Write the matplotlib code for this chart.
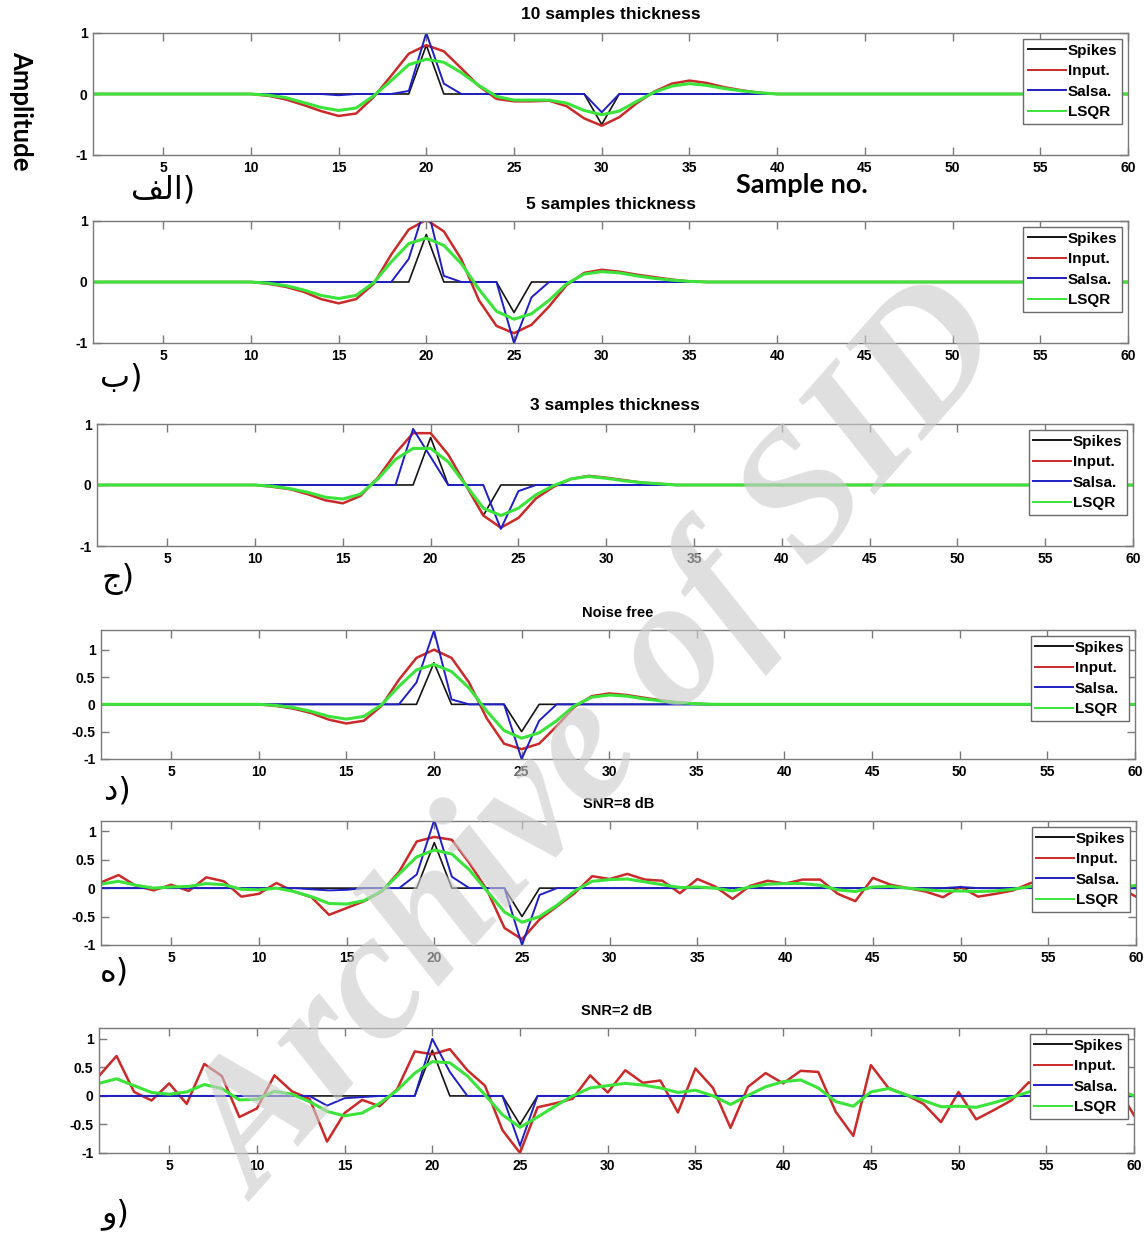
import matplotlib
matplotlib.use("Agg")
import matplotlib.pyplot as plt

plt.rcParams['axes.unicode_minus'] = False
plt.rcParams['font.family'] = ['Liberation Sans', 'DejaVu Sans']

# ---------------- data ----------------
samples = list(range(1, 61))
xtick_values = [5, 10, 15, 20, 25, 30, 35, 40, 45, 50, 55, 60]
series_names = ['Spikes', 'Input.', 'Salsa.', 'LSQR']
panel_titles = ['10 samples thickness', '5 samples thickness', '3 samples thickness',
                'Noise free', 'SNR=8 dB', 'SNR=2 dB']
panel_letters = ['\uFED2\uFEDF\uFE8D)', '\uFE8F)', '\uFE9D)', '\uFEA9)', '\uFEE9)', '\uFEED)']
yticks_small = [-1, 0, 1]
yticks_large = [-1, -0.5, 0, 0.5, 1]

# Panel 1: 10 samples thickness
spikes1 = [0, 0, 0, 0, 0, 0, 0, 0, 0, 0,
           0, 0, 0, 0, 0, 0, 0, 0, 0, 0.80,
           0, 0, 0, 0, 0, 0, 0, 0, 0, -0.50,
           0, 0, 0, 0, 0, 0, 0, 0, 0, 0,
           0, 0, 0, 0, 0, 0, 0, 0, 0, 0,
           0, 0, 0, 0, 0, 0, 0, 0, 0, 0]
input1 = [0, 0, 0, 0, 0, 0, 0, 0, 0, 0,
          -0.03, -0.09, -0.18, -0.28, -0.36, -0.32, -0.05, 0.30, 0.66, 0.80,
          0.70, 0.42, 0.13, -0.08, -0.12, -0.12, -0.11, -0.20, -0.40, -0.52,
          -0.38, -0.15, 0.04, 0.17, 0.22, 0.18, 0.11, 0.06, 0.02, 0,
          0, 0, 0, 0, 0, 0, 0, 0, 0, 0,
          0, 0, 0, 0, 0, 0, 0, 0, 0, 0]
salsa1 = [0, 0, 0, 0, 0, 0, 0, 0, 0, 0,
          0, 0, 0, 0, -0.02, 0, 0, 0, 0.05, 1.00,
          0.17, 0, 0, 0, 0, 0, 0, 0, 0, -0.30,
          0, 0, 0, 0, 0, 0, 0, 0, 0, 0,
          0, 0, 0, 0, 0, 0, 0, 0, 0, 0,
          0, 0, 0, 0, 0, 0, 0, 0, 0, 0]
lsqr1 = [0, 0, 0, 0, 0, 0, 0, 0, 0, 0,
         -0.02, -0.06, -0.14, -0.22, -0.27, -0.23, -0.03, 0.22, 0.48, 0.57,
         0.52, 0.35, 0.14, -0.04, -0.10, -0.10, -0.10, -0.15, -0.27, -0.34,
         -0.28, -0.12, 0.03, 0.13, 0.17, 0.14, 0.09, 0.05, 0.02, 0,
         0, 0, 0, 0, 0, 0, 0, 0, 0, 0,
         0, 0, 0, 0, 0, 0, 0, 0, 0, 0]

# Panel 2: 5 samples thickness
spikes2 = [0, 0, 0, 0, 0, 0, 0, 0, 0, 0,
           0, 0, 0, 0, 0, 0, 0, 0, 0, 0.78,
           0, 0, 0, 0, -0.50, 0, 0, 0, 0, 0,
           0, 0, 0, 0, 0, 0, 0, 0, 0, 0,
           0, 0, 0, 0, 0, 0, 0, 0, 0, 0,
           0, 0, 0, 0, 0, 0, 0, 0, 0, 0]
input2 = [0, 0, 0, 0, 0, 0, 0, 0, 0, 0,
          -0.03, -0.08, -0.16, -0.28, -0.35, -0.28, -0.03, 0.45, 0.86, 1.02,
          0.83, 0.37, -0.30, -0.72, -0.84, -0.70, -0.40, -0.05, 0.15, 0.20,
          0.17, 0.12, 0.08, 0.04, 0.01, 0, 0, 0, 0, 0,
          0, 0, 0, 0, 0, 0, 0, 0, 0, 0,
          0, 0, 0, 0, 0, 0, 0, 0, 0, 0]
salsa2 = [0, 0, 0, 0, 0, 0, 0, 0, 0, 0,
          0, 0, 0, 0, 0, 0, 0, 0, 0.38, 1.30,
          0.10, 0, 0, 0, -1.00, -0.25, 0, 0, 0, 0,
          0, 0, 0, 0, 0, 0, 0, 0, 0, 0,
          0, 0, 0, 0, 0, 0, 0, 0, 0, 0,
          0, 0, 0, 0, 0, 0, 0, 0, 0, 0]
lsqr2 = [0, 0, 0, 0, 0, 0, 0, 0, 0, 0,
         -0.02, -0.06, -0.13, -0.22, -0.27, -0.22, -0.01, 0.33, 0.63, 0.72,
         0.60, 0.30, -0.12, -0.48, -0.61, -0.52, -0.30, -0.03, 0.13, 0.17,
         0.15, 0.10, 0.06, 0.03, 0.01, 0, 0, 0, 0, 0,
         0, 0, 0, 0, 0, 0, 0, 0, 0, 0,
         0, 0, 0, 0, 0, 0, 0, 0, 0, 0]

# Panel 3: 3 samples thickness
spikes3 = [0, 0, 0, 0, 0, 0, 0, 0, 0, 0,
           0, 0, 0, 0, 0, 0, 0, 0, 0, 0.78,
           0, 0, -0.50, 0, 0, 0, 0, 0, 0, 0,
           0, 0, 0, 0, 0, 0, 0, 0, 0, 0,
           0, 0, 0, 0, 0, 0, 0, 0, 0, 0,
           0, 0, 0, 0, 0, 0, 0, 0, 0, 0]
input3 = [0, 0, 0, 0, 0, 0, 0, 0, 0, 0,
          -0.03, -0.07, -0.15, -0.25, -0.30, -0.18, 0.12, 0.52, 0.85, 0.85,
          0.50, 0.00, -0.50, -0.70, -0.54, -0.22, -0.03, 0.10, 0.15, 0.12,
          0.08, 0.04, 0.02, 0, 0, 0, 0, 0, 0, 0,
          0, 0, 0, 0, 0, 0, 0, 0, 0, 0,
          0, 0, 0, 0, 0, 0, 0, 0, 0, 0]
salsa3 = [0, 0, 0, 0, 0, 0, 0, 0, 0, 0,
          0, 0, 0, 0, 0, 0, 0, 0, 0.92, 0.46,
          0, 0, 0, -0.72, -0.10, 0, 0, 0, 0, 0,
          0, 0, 0, 0, 0, 0, 0, 0, 0, 0,
          0, 0, 0, 0, 0, 0, 0, 0, 0, 0,
          0, 0, 0, 0, 0, 0, 0, 0, 0, 0]
lsqr3 = [0, 0, 0, 0, 0, 0, 0, 0, 0, 0,
         -0.02, -0.06, -0.12, -0.20, -0.23, -0.15, 0.10, 0.42, 0.60, 0.60,
         0.38, 0.00, -0.38, -0.50, -0.38, -0.16, -0.01, 0.10, 0.14, 0.11,
         0.07, 0.04, 0.02, 0, 0, 0, 0, 0, 0, 0,
         0, 0, 0, 0, 0, 0, 0, 0, 0, 0,
         0, 0, 0, 0, 0, 0, 0, 0, 0, 0]

# Panel 4: Noise free
spikes4 = [0, 0, 0, 0, 0, 0, 0, 0, 0, 0,
           0, 0, 0, 0, 0, 0, 0, 0, 0, 0.76,
           0, 0, 0, 0, -0.50, 0, 0, 0, 0, 0,
           0, 0, 0, 0, 0, 0, 0, 0, 0, 0,
           0, 0, 0, 0, 0, 0, 0, 0, 0, 0,
           0, 0, 0, 0, 0, 0, 0, 0, 0, 0]
input4 = [0, 0, 0, 0, 0, 0, 0, 0, 0, 0,
          -0.03, -0.08, -0.16, -0.28, -0.35, -0.30, -0.03, 0.45, 0.85, 1.00,
          0.85, 0.40, -0.25, -0.72, -0.82, -0.72, -0.40, -0.05, 0.15, 0.20,
          0.17, 0.12, 0.07, 0.03, 0.01, 0, 0, 0, 0, 0,
          0, 0, 0, 0, 0, 0, 0, 0, 0, 0,
          0, 0, 0, 0, 0, 0, 0, 0, 0, 0]
salsa4 = [0, 0, 0, 0, 0, 0, 0, 0, 0, 0,
          0, 0, 0, 0, 0, 0, 0, 0, 0.40, 1.35,
          0.09, 0, 0, 0, -1.00, -0.30, 0, 0, 0, 0,
          0, 0, 0, 0, 0, 0, 0, 0, 0, 0,
          0, 0, 0, 0, 0, 0, 0, 0, 0, 0,
          0, 0, 0, 0, 0, 0, 0, 0, 0, 0]
lsqr4 = [0, 0, 0, 0, 0, 0, 0, 0, 0, 0,
         -0.02, -0.06, -0.13, -0.22, -0.27, -0.22, -0.01, 0.33, 0.63, 0.73,
         0.60, 0.30, -0.12, -0.48, -0.62, -0.52, -0.30, -0.03, 0.13, 0.17,
         0.15, 0.10, 0.06, 0.03, 0.01, 0, 0, 0, 0, 0,
         0, 0, 0, 0, 0, 0, 0, 0, 0, 0,
         0, 0, 0, 0, 0, 0, 0, 0, 0, 0]

# Panel 5: SNR = 8 dB
spikes5 = [0, 0, 0, 0, 0, 0, 0, 0, 0, 0,
           0, 0, 0, 0, 0, 0, 0, 0, 0, 0.80,
           0, 0, 0, 0, -0.50, 0, 0, 0, 0, 0,
           0, 0, 0, 0, 0, 0, 0, 0, 0, 0,
           0, 0, 0, 0, 0, 0, 0, 0, 0, 0,
           0, 0, 0, 0, 0, 0, 0, 0, 0, 0]
input5 = [0.10, 0.23, 0.04, -0.04, 0.06, -0.05, 0.19, 0.12, -0.15, -0.10,
          0.09, -0.06, -0.16, -0.47, -0.35, -0.23, -0.06, 0.29, 0.82, 0.90,
          0.85, 0.44, -0.03, -0.70, -0.90, -0.55, -0.32, -0.09, 0.21, 0.16,
          0.25, 0.15, 0.13, -0.09, 0.16, 0.03, -0.19, 0.04, 0.13, 0.08,
          0.15, 0.15, -0.10, -0.23, 0.18, 0.06, 0.00, -0.06, -0.16, 0.02,
          -0.15, -0.10, -0.04, 0.09, 0.12, 0.05, -0.05, 0.08, 0.02, -0.15]
salsa5 = [0, 0, 0, 0, 0, 0, 0, 0, 0, 0,
          0, 0, -0.02, -0.04, -0.03, 0, 0, 0, 0.24, 1.20,
          0.20, 0, 0, 0, -1.00, -0.12, 0, 0, 0, 0,
          0, 0, 0, 0, 0, 0, 0, 0, 0, 0,
          0, 0, 0, 0, 0, 0, 0, 0, 0, 0.02,
          0, 0, 0, 0, 0, 0, 0, 0, 0, 0]
lsqr5 = [0.07, 0.12, 0.05, 0.00, 0.02, 0.03, 0.08, 0.06, -0.02, -0.03,
         0.00, -0.06, -0.15, -0.27, -0.28, -0.22, -0.05, 0.25, 0.55, 0.67,
         0.60, 0.32, -0.05, -0.42, -0.60, -0.50, -0.30, -0.05, 0.12, 0.15,
         0.16, 0.11, 0.06, 0.01, 0.02, 0.00, -0.05, 0.02, 0.07, 0.08,
         0.08, 0.05, -0.03, -0.06, 0.02, 0.03, 0.00, -0.03, -0.05, -0.05,
         -0.06, -0.05, -0.02, 0.03, 0.06, 0.05, 0.02, 0.01, 0.00, 0.05]

# Panel 6: SNR = 2 dB
spikes6 = [0, 0, 0, 0, 0, 0, 0, 0, 0, 0,
           0, 0, 0, 0, 0, 0, 0, 0, 0, 0.80,
           0, 0, 0, 0, -0.50, 0, 0, 0, 0, 0,
           0, 0, 0, 0, 0, 0, 0, 0, 0, 0,
           0, 0, 0, 0, 0, 0, 0, 0, 0, 0,
           0, 0, 0, 0, 0, 0, 0, 0, 0, 0]
input6 = [0.35, 0.70, 0.07, -0.08, 0.22, -0.14, 0.56, 0.35, -0.37, -0.22,
          0.36, 0.08, -0.05, -0.80, -0.30, -0.07, -0.18, 0.12, 0.78, 0.73,
          0.82, 0.45, 0.18, -0.60, -1.00, -0.20, -0.13, -0.05, 0.36, 0.06,
          0.45, 0.23, 0.27, -0.29, 0.48, 0.14, -0.56, 0.16, 0.40, 0.22,
          0.44, 0.42, -0.28, -0.70, 0.54, 0.14, 0.02, -0.14, -0.46, 0.07,
          -0.41, -0.25, -0.08, 0.24, 0.10, -0.40, -0.05, 0.10, 0.18, -0.34]
salsa6 = [0, 0, 0, 0, 0, 0, 0, 0, 0, 0,
          0, 0, 0, -0.17, -0.04, -0.02, 0, 0, 0, 1.00,
          0.42, 0, 0, 0, -0.87, 0, 0, 0, 0, 0,
          0, 0, 0, 0, 0, 0, 0, 0, 0, 0,
          0, 0, 0, 0, 0, 0, 0, 0, 0, 0,
          0, 0, 0, 0, 0, 0, 0, 0, 0, 0]
lsqr6 = [0.22, 0.30, 0.18, 0.06, 0.03, 0.07, 0.20, 0.13, -0.07, -0.06,
         0.08, 0.03, -0.10, -0.27, -0.35, -0.30, -0.13, 0.10, 0.40, 0.60,
         0.58, 0.35, 0.02, -0.33, -0.55, -0.37, -0.18, 0.00, 0.14, 0.18,
         0.22, 0.19, 0.14, 0.06, 0.10, 0.00, -0.15, 0.01, 0.16, 0.25,
         0.28, 0.14, -0.10, -0.18, 0.07, 0.13, 0.02, -0.08, -0.19, -0.18,
         -0.20, -0.12, -0.03, 0.07, 0.15, 0.10, 0.05, 0.05, 0.12, 0.00]

panel_data = [
    (spikes1, input1, salsa1, lsqr1),
    (spikes2, input2, salsa2, lsqr2),
    (spikes3, input3, salsa3, lsqr3),
    (spikes4, input4, salsa4, lsqr4),
    (spikes5, input5, salsa5, lsqr5),
    (spikes6, input6, salsa6, lsqr6),
]

# ---------------- layout / style ----------------
W, H = 1148, 1234
# axes rectangles in pixels: left, top, right, bottom
rects = [(93, 33, 1128, 155), (93, 221, 1128, 343), (97, 424, 1133, 546),
         (101, 630, 1135, 759), (101, 821, 1136, 945), (99, 1028, 1134, 1153)]
ylims = [(-1, 1), (-1, 1), (-1, 1), (-1, 1.36), (-1, 1.18), (-1, 1.19)]
title_y = [15, 205, 406, 613, 804, 1011]
title_size = [12.5, 12.5, 12.5, 10.5, 10.5, 10.5]
letter_pos = [(163, 190), (121, 378), (118, 579), (117, 791), (114, 972), (115, 1214)]

colors = ['#141414', '#c92a2a', '#1f1fc4', '#3be33b']
widths = [1.2, 1.8, 1.4, 2.2]
spine_c = '#7a7a7a'

fig = plt.figure(figsize=(W / 100, H / 100), dpi=100)
fig.patch.set_facecolor('white')

for i, (l, t, r, b) in enumerate(rects):
    ax = fig.add_axes([l / W, 1 - b / H, (r - l) / W, (b - t) / H])
    for s, c, lw, name in zip(panel_data[i], colors, widths, series_names):
        ax.plot(samples, s, color=c, lw=lw, label=name, solid_joinstyle='round')
    ax.set_xlim(1, 60)
    ax.set_ylim(*ylims[i])
    ax.set_xticks(xtick_values)
    ax.set_xticklabels([str(v) for v in xtick_values])
    yt = yticks_small if i < 3 else yticks_large
    ax.set_yticks(yt)
    ax.set_yticklabels([('%g' % v) for v in yt])
    ax.tick_params(direction='in', top=True, right=True, length=6, width=1,
                   color=spine_c, labelsize=10, pad=4)
    for lab in ax.get_xticklabels() + ax.get_yticklabels():
        lab.set_fontweight('bold')
    for sp in ax.spines.values():
        sp.set_color(spine_c)
        sp.set_linewidth(1.0)
    leg = ax.legend(loc='upper right', prop={'weight': 'bold', 'size': 11},
                    handlelength=2.5, handletextpad=0.1, labelspacing=0.42,
                    borderpad=0.3, borderaxespad=0.4, fancybox=False,
                    framealpha=1, edgecolor='#6a6a6a')
    leg.get_frame().set_linewidth(1.0)
    for ln in leg.get_lines():
        ln.set_linewidth(1.4)
    fig.text(((l + r) / 2) / W, 1 - title_y[i] / H, panel_titles[i],
             ha='center', va='center', fontsize=title_size[i], fontweight='bold')
    fig.text(letter_pos[i][0] / W, 1 - letter_pos[i][1] / H, panel_letters[i],
             ha='center', va='center', fontsize=23, family=['DejaVu Sans'])

fig.text(21 / W, 1 - 111 / H, 'Amplitude', rotation=270, ha='center', va='center',
         fontsize=18.5, fontweight='bold', family=['Lato', 'DejaVu Sans'])
fig.text(802 / W, 1 - 185 / H, 'Sample no.', ha='center', va='center',
         fontsize=19.5, fontweight='bold', family=['Lato', 'DejaVu Sans'])

# watermark
fig.text(603 / W, 1 - 745 / H, 'Archive of SID', rotation=48.5, ha='center', va='center',
         fontsize=132, fontweight='bold', fontstyle='italic', family=['Liberation Serif'],
         color='#cccccc', alpha=0.62, zorder=10)

fig.savefig('out.png', dpi=100, facecolor='white')
